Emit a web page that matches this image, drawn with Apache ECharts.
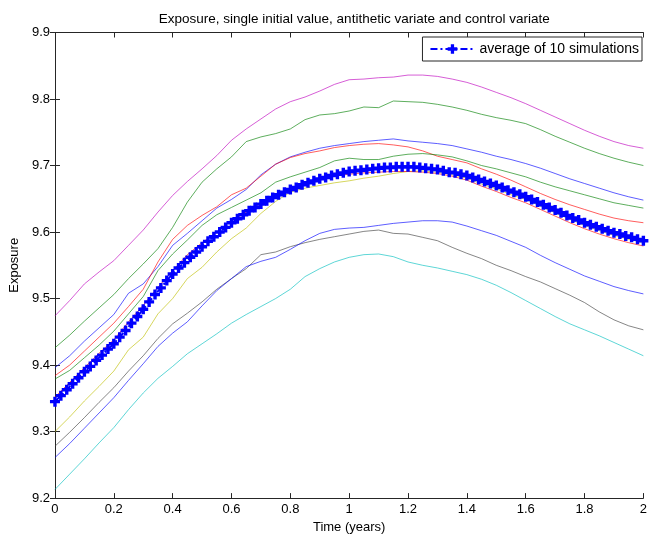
<!DOCTYPE html>
<html>
<head>
<meta charset="utf-8">
<script src="https://cdn.jsdelivr.net/npm/echarts@6/dist/echarts.min.js"></script>
<style>html,body{margin:0;padding:0;background:#fff;}#c{width:650px;height:539px;}</style>
</head>
<body>
<div id="c"></div>
<script>
// ---- data ----
const tThin = [0,0.05,0.1,0.15,0.2,0.25,0.3,0.35,0.4,0.45,0.5,0.55,0.6,0.65,0.7,0.75,0.8,0.85,0.9,0.95,1,1.05,1.1,1.15,1.2,1.25,1.3,1.35,1.4,1.45,1.5,1.55,1.6,1.65,1.7,1.75,1.8,1.85,1.9,1.95,2];
const sim1Blue = [9.396,9.414,9.436,9.456,9.476,9.508,9.522,9.548,9.580,9.598,9.617,9.636,9.649,9.664,9.686,9.702,9.713,9.720,9.726,9.730,9.733,9.736,9.738,9.740,9.737,9.735,9.733,9.730,9.725,9.720,9.714,9.709,9.703,9.696,9.688,9.680,9.673,9.666,9.659,9.653,9.648];
const sim2Green = [9.426,9.445,9.466,9.486,9.506,9.530,9.552,9.575,9.607,9.645,9.675,9.695,9.713,9.736,9.743,9.748,9.755,9.769,9.776,9.778,9.782,9.788,9.787,9.797,9.796,9.795,9.792,9.788,9.783,9.777,9.772,9.768,9.763,9.754,9.744,9.735,9.726,9.718,9.711,9.705,9.700];
const sim3Red = [9.384,9.400,9.421,9.442,9.463,9.488,9.514,9.555,9.589,9.610,9.625,9.638,9.656,9.666,9.684,9.702,9.712,9.718,9.722,9.727,9.730,9.732,9.733,9.731,9.728,9.722,9.714,9.709,9.704,9.695,9.687,9.678,9.668,9.658,9.649,9.641,9.634,9.627,9.621,9.617,9.614];
const sim4Cyan = [9.213,9.236,9.259,9.283,9.306,9.333,9.358,9.380,9.398,9.417,9.432,9.447,9.463,9.476,9.488,9.500,9.514,9.533,9.545,9.555,9.562,9.566,9.567,9.563,9.555,9.550,9.546,9.541,9.536,9.529,9.520,9.509,9.497,9.485,9.473,9.462,9.453,9.444,9.434,9.424,9.414];
const sim5Magenta = [9.474,9.497,9.522,9.540,9.557,9.580,9.603,9.630,9.655,9.676,9.695,9.715,9.738,9.755,9.770,9.785,9.796,9.803,9.812,9.822,9.829,9.830,9.832,9.833,9.836,9.836,9.834,9.830,9.825,9.818,9.810,9.802,9.793,9.783,9.773,9.763,9.753,9.744,9.736,9.730,9.726];
const sim6Yellow = [9.300,9.322,9.346,9.368,9.391,9.423,9.442,9.477,9.500,9.530,9.547,9.570,9.590,9.606,9.628,9.646,9.660,9.666,9.670,9.674,9.677,9.681,9.684,9.688,9.691,9.692,9.690,9.686,9.681,9.672,9.665,9.656,9.649,9.639,9.629,9.619,9.610,9.602,9.595,9.589,9.584];
const sim7Gray = [9.278,9.299,9.321,9.344,9.366,9.391,9.414,9.440,9.462,9.478,9.495,9.514,9.530,9.545,9.566,9.570,9.578,9.584,9.589,9.593,9.597,9.601,9.603,9.598,9.597,9.592,9.587,9.577,9.568,9.560,9.550,9.542,9.533,9.525,9.515,9.505,9.494,9.480,9.468,9.459,9.453];
const sim8Blue = [9.261,9.282,9.305,9.328,9.351,9.377,9.402,9.428,9.448,9.465,9.489,9.512,9.530,9.548,9.556,9.562,9.574,9.587,9.598,9.604,9.606,9.607,9.610,9.613,9.615,9.617,9.617,9.615,9.609,9.602,9.595,9.586,9.577,9.565,9.554,9.544,9.534,9.526,9.518,9.512,9.507];
const sim9Green = [9.379,9.392,9.411,9.430,9.451,9.477,9.503,9.542,9.567,9.588,9.610,9.626,9.637,9.648,9.659,9.675,9.683,9.690,9.697,9.707,9.711,9.709,9.709,9.714,9.717,9.718,9.716,9.713,9.707,9.700,9.695,9.689,9.683,9.675,9.668,9.662,9.656,9.650,9.644,9.640,9.636];
const sim10Red = [9.352,9.374,9.396,9.418,9.438,9.465,9.490,9.517,9.542,9.566,9.584,9.600,9.617,9.630,9.643,9.653,9.663,9.671,9.678,9.684,9.687,9.689,9.690,9.691,9.691,9.690,9.688,9.684,9.678,9.669,9.661,9.652,9.644,9.634,9.624,9.614,9.605,9.597,9.590,9.584,9.579];

const tAvg = [0,0.02,0.04,0.06,0.08,0.1,0.12,0.14,0.16,0.18,0.2,0.22,0.24,0.26,0.28,0.3,0.32,0.34,0.36,0.38,0.4,0.42,0.44,0.46,0.48,0.5,0.52,0.54,0.56,0.58,0.6,0.62,0.64,0.66,0.68,0.7,0.72,0.74,0.76,0.78,0.8,0.82,0.84,0.86,0.88,0.9,0.92,0.94,0.96,0.98,1,1.02,1.04,1.06,1.08,1.1,1.12,1.14,1.16,1.18,1.2,1.22,1.24,1.26,1.28,1.3,1.32,1.34,1.36,1.38,1.4,1.42,1.44,1.46,1.48,1.5,1.52,1.54,1.56,1.58,1.6,1.62,1.64,1.66,1.68,1.7,1.72,1.74,1.76,1.78,1.8,1.82,1.84,1.86,1.88,1.9,1.92,1.94,1.96,1.98,2];
const avgValues = [9.345,9.354,9.363,9.372,9.381,9.390,9.398,9.407,9.415,9.424,9.432,9.442,9.452,9.463,9.473,9.484,9.495,9.506,9.516,9.527,9.537,9.546,9.554,9.562,9.570,9.578,9.586,9.593,9.600,9.607,9.614,9.620,9.626,9.632,9.637,9.642,9.647,9.652,9.656,9.660,9.664,9.667,9.671,9.674,9.677,9.680,9.682,9.685,9.687,9.689,9.691,9.692,9.693,9.694,9.695,9.696,9.697,9.697,9.698,9.698,9.698,9.698,9.697,9.696,9.695,9.694,9.692,9.690,9.689,9.687,9.685,9.682,9.679,9.676,9.673,9.670,9.667,9.663,9.660,9.657,9.653,9.649,9.645,9.641,9.637,9.633,9.629,9.625,9.621,9.618,9.614,9.611,9.608,9.605,9.602,9.599,9.597,9.594,9.592,9.589,9.587];

const xTicks = [0,0.2,0.4,0.6,0.8,1,1.2,1.4,1.6,1.8,2];
const yTicks = [9.2,9.3,9.4,9.5,9.6,9.7,9.8,9.9];
const titleText = 'Exposure, single initial value, antithetic variate and control variate';
const avgName = 'average of 10 simulations';

// ---- build ----
const thinSeries = [
  [sim1Blue, '#0000ff'], [sim2Green, '#008000'], [sim3Red, '#ff0000'], [sim4Cyan, '#00bfbf'],
  [sim5Magenta, '#bf00bf'], [sim6Yellow, '#bfbf00'], [sim7Gray, '#404040'], [sim8Blue, '#0000ff'],
  [sim9Green, '#008000'], [sim10Red, '#ff0000']
].map(([vals, col], i) => ({
  name: 'sim' + (i + 1), type: 'line', xAxisIndex: 0, yAxisIndex: 0,
  data: tThin.map((t, k) => [t, vals[k]]),
  showSymbol: false, symbol: 'none', smooth: false, silent: true,
  lineStyle: { color: col, width: 0.8, opacity: 0.8 }, itemStyle: { color: col },
  z: 2
}));

const plusPath = 'path://M3.3,0 H6.7 V3.3 H10 V6.7 H6.7 V10 H3.3 V6.7 H0 V3.3 H3.3 Z';
const avgSeries = {
  name: avgName, type: 'line', xAxisIndex: 0, yAxisIndex: 0,
  data: tAvg.map((t, k) => [t, avgValues[k]]),
  symbol: plusPath, symbolSize: 10, showSymbol: true, showAllSymbol: true,
  lineStyle: { color: '#0000ff', width: 2, type: [7, 3, 2, 3] },
  itemStyle: { color: '#0000ff' },
  z: 5, silent: true
};

const font = 'Liberation Sans, Arial, Helvetica, sans-serif';
const axisCol = '#262626';
const gridLeft = 52, gridRight = 3.5, gridTop = 32.5, gridBottom = 37.3;
const xCommon = { type: 'value', min: xTicks[0], max: xTicks[xTicks.length-1], interval: 0.2, splitLine: { show: false },
  axisLine: { show: true, lineStyle: { color: axisCol, width: 1 } },
  axisTick: { show: true, inside: true, length: 5, lineStyle: { color: axisCol } } };
const yCommon = { type: 'value', min: yTicks[0], max: yTicks[yTicks.length-1], interval: 0.1, splitLine: { show: false },
  axisLine: { show: true, lineStyle: { color: axisCol, width: 1 } },
  axisTick: { show: true, inside: true, length: 5, lineStyle: { color: axisCol } } };

const chart = echarts.init(document.getElementById('c'), null, { renderer: 'canvas' });
chart.setOption({
  animation: false,
  backgroundColor: '#ffffff',
  title: { text: titleText, left: gridLeft + (650 - gridLeft - gridRight) / 2, textAlign: 'center', top: 7,
    textStyle: { fontFamily: font, fontSize: 13.5, fontWeight: 'normal', color: '#000' } },
  legend: {
    data: [avgName], right: 8, top: 37, orient: 'horizontal',
    itemWidth: 44, itemHeight: 12, itemGap: 4,
    padding: [5, 3, 5, 7], borderColor: axisCol, borderWidth: 1, backgroundColor: '#fff',
    textStyle: { fontFamily: font, fontSize: 14, color: '#000' }
  },
  grid: { left: gridLeft, right: gridRight, top: gridTop, bottom: gridBottom, containLabel: false },
  xAxis: [
    Object.assign({}, xCommon, { position: 'bottom', name: 'Time (years)', nameLocation: 'middle', nameGap: 22,
      nameTextStyle: { fontFamily: font, fontSize: 13, color: '#000' },
      axisLabel: { show: true, margin: 5, fontFamily: font, fontSize: 13, color: '#000',
        formatter: v => String(Math.round(v * 10) / 10) } }),
    Object.assign({}, xCommon, { position: 'top', axisLabel: { show: false } })
  ],
  yAxis: [
    Object.assign({}, yCommon, { position: 'left', name: 'Exposure', nameLocation: 'middle', nameGap: 33, nameRotate: 90,
      nameTextStyle: { fontFamily: font, fontSize: 13, color: '#000' },
      axisLabel: { show: true, margin: 5, fontFamily: font, fontSize: 13, color: '#000',
        formatter: v => (Math.round(v * 10) / 10).toFixed(1) } }),
    Object.assign({}, yCommon, { position: 'right', axisLabel: { show: false } })
  ],
  series: thinSeries.concat([avgSeries])
});
</script>
</body>
</html>
